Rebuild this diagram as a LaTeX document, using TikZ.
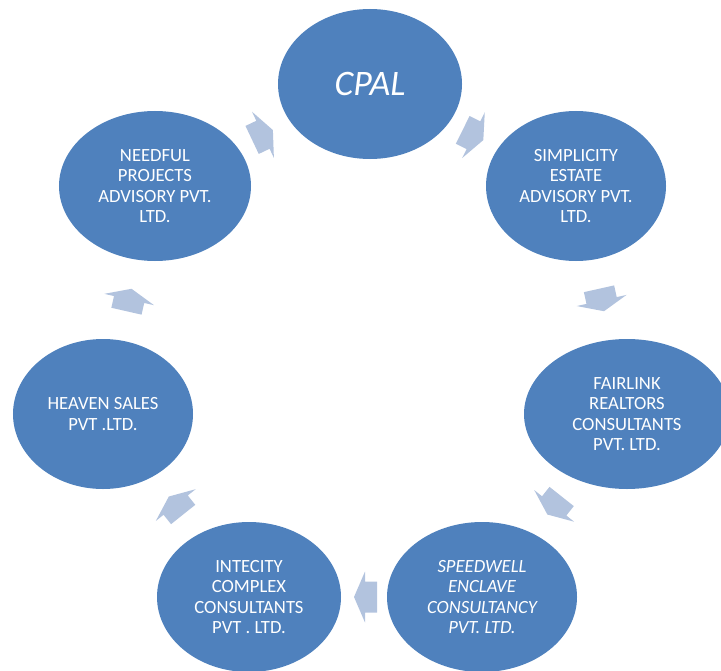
\documentclass[tikz,border=0pt]{standalone}
\usepackage{fontspec}
\setmainfont{Carlito}
\usetikzlibrary{shapes.geometric}
\definecolor{cpblue}{RGB}{79,129,189}
\definecolor{cplight}{RGB}{178,195,222}

\begin{document}
\begin{tikzpicture}[x=1bp,y=-1bp,allow upside down,
        firm/.style={ellipse,fill=cpblue,text=white,inner sep=0pt,minimum height=150bp,align=center,
            font=\fontsize{18.7}{20.3}\selectfont},
        pics/flow/.style={code={
            \fill[cplight] (-11.5,-15.5) -- (0.5,-15.5) -- (0.5,-25.5) -- (11.5,0)
                -- (0.5,25.5) -- (0.5,15.5) -- (-11.5,15.5) -- cycle;}}]
        \useasboundingbox (0,0) rectangle (721,671);

        \node[firm,minimum width=184bp,font=\fontsize{36}{40}\selectfont\itshape] (cpal) at (370,84) {CPAL};
        \node[firm,minimum width=180bp] (simp) at (576,186) {SIMPLICITY\\ESTATE\\ADVISORY PVT.\\LTD.};
        \node[firm,minimum width=206bp] (fair) at (627,414) {FAIRLINK\\REALTORS\\CONSULTANTS\\PVT. LTD.};
        \node[firm,minimum width=190bp] (speed) at (482,597) {\itshape SPEEDWELL\\\itshape ENCLAVE\\\itshape CONSULTANCY\\\itshape PVT. LTD.};
        \node[firm,minimum width=184bp] (inte) at (249,597) {INTECITY\\COMPLEX\\CONSULTANTS\\PVT . LTD.};
        \node[firm,minimum width=180bp] (heav) at (103,414) {HEAVEN SALES\\PVT .LTD.};
        \node[firm,minimum width=192bp] (need) at (155,186) {NEEDFUL\\PROJECTS\\ADVISORY PVT.\\LTD.};

        \path (cpal.center) -- (simp.center) pic[midway,sloped] {flow};
        \path (simp.center) -- (fair.center) pic[midway,sloped] {flow};
        \path (fair.center) -- (speed.center) pic[midway,sloped] {flow};
        \path (speed.center) -- (inte.center) pic[midway,sloped] {flow};
        \path (inte.center) -- (heav.center) pic[midway,sloped] {flow};
        \path (heav.center) -- (need.center) pic[midway,sloped] {flow};
        \path (need.center) -- (cpal.center) pic[midway,sloped] {flow};
      \end{tikzpicture}
\end{document}
